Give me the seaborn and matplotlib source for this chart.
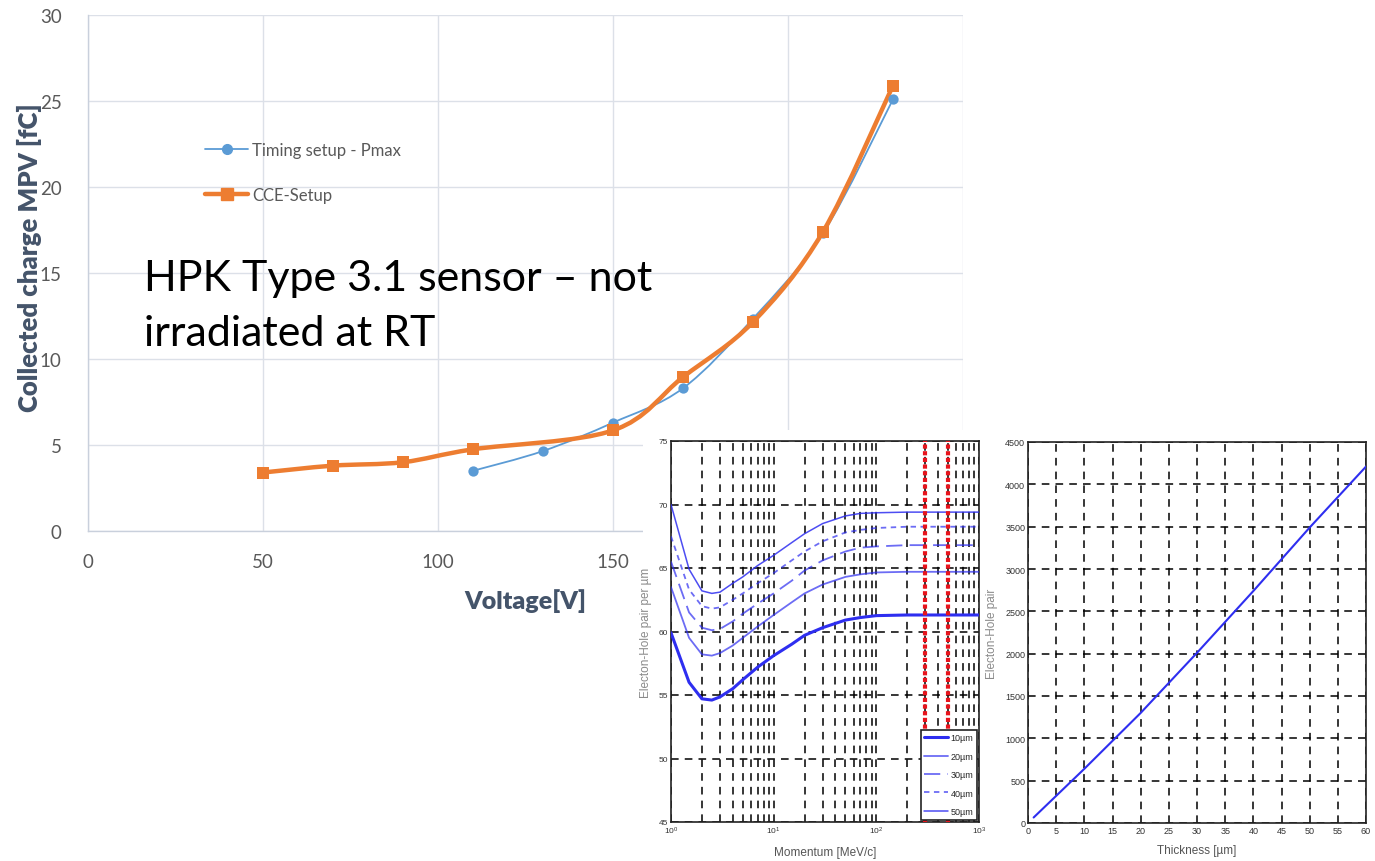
import numpy as np
import pandas as pd
import matplotlib
matplotlib.use("Agg")
import matplotlib.pyplot as plt
import seaborn as sns
from matplotlib.path import Path
from matplotlib.patches import PathPatch, Rectangle
from matplotlib.lines import Line2D
from matplotlib.ticker import LogLocator, NullFormatter

# ---------------- data ----------------
timing_voltage = [110, 130, 150, 170, 190, 210, 230]
timing_charge = [3.5, 4.65, 6.3, 8.3, 12.35, 17.3, 25.1]
cce_voltage = [50, 70, 90, 110, 150, 170, 190, 210, 230]
cce_charge = [3.4, 3.8, 4.0, 4.75, 5.85, 8.95, 12.15, 17.4, 25.9]
main_xticks = [0, 50, 100, 150, 200, 250]
main_yticks = [0, 5, 10, 15, 20, 25, 30]
series_labels = ["Timing setup - Pmax", "CCE-Setup"]
annotation = "HPK Type 3.1 sensor – not\nirradiated at RT"

momentum = [1, 1.5, 2, 2.5, 3, 4, 5, 7, 10, 15, 20, 30, 50, 70, 100, 200, 500, 1000]
ehp_10um = [59.9, 56.0, 54.7, 54.6, 54.85, 55.5, 56.2, 57.2, 58.1, 59.0, 59.7, 60.3, 60.9, 61.1, 61.25, 61.3, 61.3, 61.3]
ehp_20um = [63.5, 59.5, 58.2, 58.1, 58.3, 58.9, 59.5, 60.4, 61.3, 62.3, 63.0, 63.7, 64.3, 64.5, 64.65, 64.7, 64.7, 64.7]
ehp_30um = [65.5, 61.5, 60.3, 60.1, 60.2, 60.8, 61.4, 62.2, 63.0, 64.0, 64.8, 65.6, 66.3, 66.6, 66.7, 66.8, 66.8, 66.8]
ehp_40um = [67.5, 63.3, 62.0, 61.8, 61.9, 62.5, 63.0, 63.8, 64.6, 65.6, 66.3, 67.1, 67.8, 68.0, 68.15, 68.25, 68.25, 68.25]
ehp_50um = [70.0, 64.9, 63.2, 63.0, 63.1, 63.8, 64.3, 65.2, 66.0, 67.0, 67.7, 68.5, 69.1, 69.3, 69.35, 69.4, 69.4, 69.4]
thickness_labels = ["10µm", "20µm", "30µm", "40µm", "50µm"]
red_momenta = [300, 500]

thickness = [1, 10, 20, 30, 40, 50, 60]
ehp_total = [65, 640, 1300, 2010, 2740, 3490, 4210]

# ---------------- style ----------------
sns.set_theme(style="white")
plt.rcParams["font.family"] = ["Lato", "DejaVu Sans"]

W, H = 1375, 862
fig = plt.figure(figsize=(W / 100, H / 100), dpi=100)
fig.patch.set_facecolor("white")


def fx(px):
    return px / W


def fy(py):
    return 1 - py / H


BLUE = "#5B9BD5"
ORANGE = "#ED7D31"
TICK = "#595959"
LABEL = "#44546A"
GRID = "#DCE0E8"

# ---------------- main chart ----------------
ax = fig.add_axes([fx(88), fy(532), fx(963 - 88), (532 - 16) / H])
ax.set_zorder(0)
ax.set_xlim(0, 250)
ax.set_ylim(0, 30)
ax.set_xticks(main_xticks)
ax.set_yticks(main_yticks)
ax.grid(True, color=GRID, lw=1.0)
for s in ["top", "right"]:
    ax.spines[s].set_visible(False)
for s in ["left", "bottom"]:
    ax.spines[s].set_color("#C9D0DC")
    ax.spines[s].set_linewidth(1.0)
ax.tick_params(axis="both", length=0, labelsize=13.5, colors=TICK)
ax.tick_params(axis="x", pad=16)
ax.tick_params(axis="y", pad=19)


def smooth_path(xs, ys):
    pts = np.column_stack([xs, ys]).astype(float)
    n = len(pts)
    verts = [pts[0]]
    codes = [Path.MOVETO]
    for i in range(n - 1):
        p0 = pts[i - 1] if i > 0 else pts[i]
        p1 = pts[i]
        p2 = pts[i + 1]
        p3 = pts[i + 2] if i + 2 < n else pts[i + 1]
        c1 = p1 + (p2 - p0) / 6.0
        c2 = p2 - (p3 - p1) / 6.0
        verts += [c1, c2, p2]
        codes += [Path.CURVE4] * 3
    return Path(verts, codes)


ax.add_patch(PathPatch(smooth_path(timing_voltage, timing_charge), facecolor="none",
                       edgecolor=BLUE, lw=1.3, zorder=3))
ax.add_patch(PathPatch(smooth_path(cce_voltage, cce_charge), facecolor="none",
                       edgecolor=ORANGE, lw=3.2, zorder=4, capstyle="round", joinstyle="round"))

df_t = pd.DataFrame({"V": timing_voltage, "Q": timing_charge})
df_c = pd.DataFrame({"V": cce_voltage, "Q": cce_charge})
sns.scatterplot(data=df_t, x="V", y="Q", ax=ax, color=BLUE, marker="o", s=55,
                edgecolor=BLUE, linewidth=0, zorder=5, legend=False)
sns.scatterplot(data=df_c, x="V", y="Q", ax=ax, color=ORANGE, marker="s", s=75,
                edgecolor=ORANGE, linewidth=0, zorder=6, legend=False)

ax.set_xlabel("Voltage[V]", fontsize=18, fontweight="heavy", color=LABEL)
ax.xaxis.set_label_coords((525 - 88) / 875, (532 - 589) / 516)
ax.set_ylabel("Collected charge MPV [fC]", fontsize=18.5, fontweight="heavy", color=LABEL)
ax.yaxis.set_label_coords((42 - 88) / 875, (532 - 258) / 516)

handles = [
    Line2D([0], [0], color=BLUE, lw=1.3, marker="o", ms=7, mec=BLUE, mfc=BLUE),
    Line2D([0], [0], color=ORANGE, lw=3.2, marker="s", ms=8, mec=ORANGE, mfc=ORANGE),
]
leg = ax.legend(handles, series_labels, loc="upper left",
                bbox_to_anchor=((205 - 88) / 875, (532 - 143) / 516),
                frameon=False, fontsize=12, handlelength=2.6, handletextpad=0.25,
                labelspacing=1.75, borderpad=0, borderaxespad=0, numpoints=1)
for t in leg.get_texts():
    t.set_color(TICK)

ax.text(fx(144), fy(346), annotation, transform=fig.transFigure, fontsize=31,
        color="black", ha="left", va="baseline", linespacing=1.56, zorder=7)

# ---------------- white cover for inset images ----------------
fig.add_artist(Rectangle((fx(643), 0), 1 - fx(643), (862 - 431) / H,
                         transform=fig.transFigure, facecolor="white",
                         edgecolor="none", zorder=1))

INSET_FONT = ["Liberation Sans", "DejaVu Sans"]
IN_BLUE = "#2E2EF0"

# ---------------- inset 1: momentum ----------------
a1 = fig.add_axes([fx(671), fy(823), fx(979 - 671), (823 - 442) / H])
a1.set_zorder(2)
a1.set_facecolor("white")
curves = [ehp_10um, ehp_20um, ehp_30um, ehp_40um, ehp_50um]
styles = [
    dict(lw=2.2, ls="-", alpha=1.0),
    dict(lw=1.3, ls="-", alpha=0.7),
    dict(lw=1.3, ls=(0, (9, 4)), alpha=0.7),
    dict(lw=1.3, ls=(0, (3, 2.5)), alpha=0.7),
    dict(lw=1.1, ls="-", alpha=0.85),
]
for vals, lab, st in zip(curves, thickness_labels, styles):
    d = pd.DataFrame({"p": momentum, "e": vals})
    sns.lineplot(data=d, x="p", y="e", ax=a1, color=IN_BLUE, linewidth=st["lw"],
                 linestyle=st["ls"], alpha=st["alpha"], label=lab, zorder=4)
a1.set_xscale("log")
a1.set_xlim(1, 1000)
a1.set_ylim(45, 75)
a1.set_yticks([45, 50, 55, 60, 65, 70, 75])
a1.xaxis.set_minor_locator(LogLocator(base=10, subs=np.arange(2, 10)))
a1.xaxis.set_minor_formatter(NullFormatter())
a1.grid(True, which="major", axis="both", color="black", lw=1.1, ls=(0, (5, 4)), zorder=1)
a1.grid(True, which="minor", axis="x", color="black", lw=1.1, ls=(0, (5, 4)), zorder=1)
for rp in red_momenta:
    a1.axvline(rp, color="#E8141C", lw=3, ls=(0, (1, 0.6)), zorder=5)
for s in a1.spines.values():
    s.set_color("#222222")
    s.set_linewidth(1.2)
a1.tick_params(which="both", direction="in", labelsize=6, colors="#333333", pad=2)
a1.tick_params(which="major", length=3)
a1.tick_params(which="minor", length=0)
for lab in a1.get_xticklabels() + a1.get_yticklabels():
    lab.set_family(INSET_FONT)
a1.set_xlabel("Momentum [MeV/c]", fontsize=8.5, color="#555555", family=INSET_FONT, labelpad=7)
a1.set_ylabel("Electon-Hole pair per µm", fontsize=8.5, color="#8a8a8a", family=INSET_FONT, labelpad=5)
lg1 = a1.legend(loc="lower right", fontsize=6.5, frameon=True, fancybox=False,
                edgecolor="#222222", framealpha=1, borderaxespad=0.25,
                handlelength=2.6, labelspacing=1.05, handletextpad=0.3,
                prop={"family": INSET_FONT, "size": 6.5})
lg1.get_frame().set_linewidth(1.2)
lg1.set_zorder(6)

# ---------------- inset 2: thickness ----------------
a2 = fig.add_axes([fx(1028), fy(824), fx(1366 - 1028), (824 - 443) / H])
a2.set_zorder(2)
a2.set_facecolor("white")
d2 = pd.DataFrame({"t": thickness, "n": ehp_total})
sns.lineplot(data=d2, x="t", y="n", ax=a2, color=IN_BLUE, linewidth=1.5, zorder=4)
a2.set_xlim(0, 60)
a2.set_ylim(0, 4500)
a2.set_xticks(np.arange(0, 61, 5))
a2.set_yticks(np.arange(0, 4501, 500))
a2.grid(True, which="major", axis="both", color="black", lw=1.1, ls=(0, (5, 4)), zorder=1)
for s in a2.spines.values():
    s.set_color("#222222")
    s.set_linewidth(1.2)
a2.tick_params(which="both", direction="in", labelsize=6.5, colors="#333333", pad=2, length=3)
for lab in a2.get_xticklabels() + a2.get_yticklabels():
    lab.set_family(INSET_FONT)
a2.set_xlabel("Thickness [µm]", fontsize=8.5, color="#555555", family=INSET_FONT, labelpad=7)
a2.set_ylabel("Electon-Hole pair", fontsize=8.5, color="#8a8a8a", family=INSET_FONT, labelpad=5)

fig.savefig("out.png", dpi=100, facecolor="white")
